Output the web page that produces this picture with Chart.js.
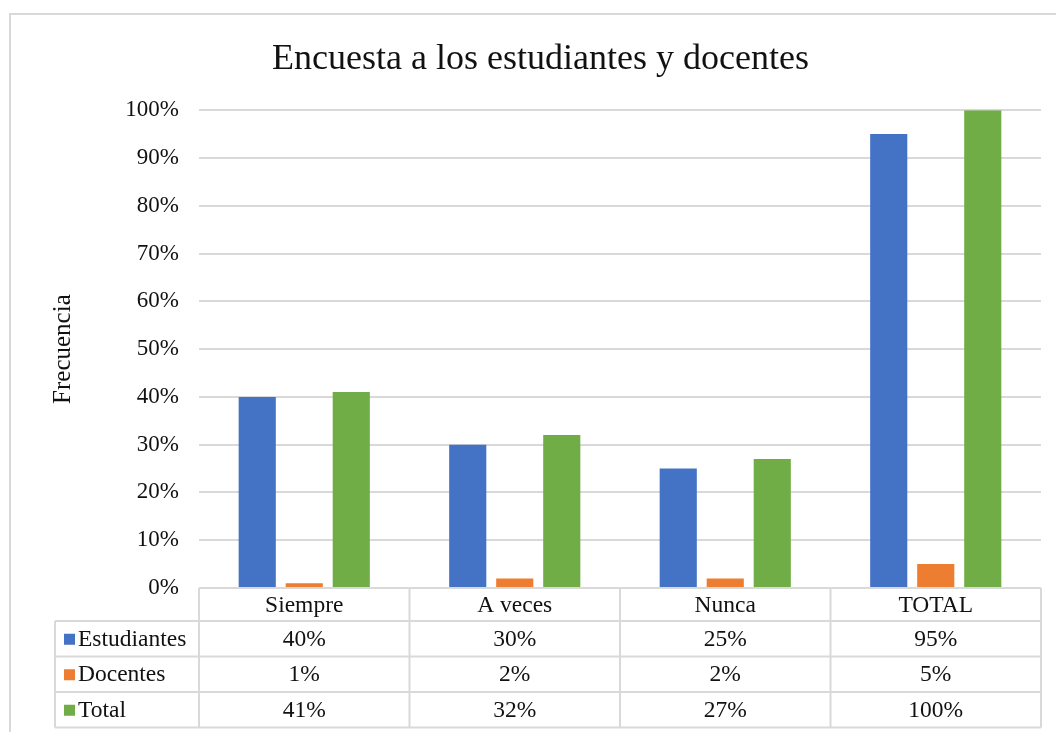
<!DOCTYPE html>
<html>
<head>
<meta charset="utf-8">
<script src="https://cdn.jsdelivr.net/npm/chart.js@4"></script>
<style>
  html, body { margin: 0; padding: 0; background: #fff; }
  #wrap { width: 1056px; height: 732px; position: relative; }
</style>
</head>
<body>
<div id="wrap"><canvas id="surveyChart"></canvas></div>
<script>
const categories = ["Siempre", "A veces", "Nunca", "TOTAL"];
const estudiantes = [40, 30, 25, 95];
const docentes = [1, 2, 2, 5];
const total = [41, 32, 27, 100];
const seriesNames = ["Estudiantes", "Docentes", "Total"];
const seriesColors = ["#4472c4", "#ed7d31", "#70ad47"];
const yTicks = [0, 10, 20, 30, 40, 50, 60, 70, 80, 90, 100];

const SERIF = "'Liberation Serif', 'Times New Roman', serif";
const GRID = "#d9d9d9";
const TEXT = "#111";

// outer frame of the chart object
const framePlugin = {
  id: "frame",
  beforeDraw(chart) {
    const c = chart.ctx;
    c.save();
    c.fillStyle = "#fff";
    c.fillRect(0, 0, chart.width, chart.height);
    c.strokeStyle = GRID;
    c.lineWidth = 2;
    c.strokeRect(10, 14, chart.width + 20, chart.height + 20);
    c.restore();
  },
};

// data table below the plot, aligned with the category scale
const dataTablePlugin = {
  id: "dataTable",
  afterDraw(chart) {
    const c = chart.ctx;
    const area = chart.chartArea;
    const x = chart.scales.x;
    const colW = (area.right - area.left) / categories.length;
    const top = area.bottom;
    const headerH = 33;
    const rowH = 35.5;
    const tableLeft = 55;
    const rows = [estudiantes, docentes, total];
    const bottom = top + headerH + rowH * rows.length;

    c.save();
    c.strokeStyle = GRID;
    c.lineWidth = 2;
    c.beginPath();
    // header row
    c.moveTo(area.left, top);
    c.lineTo(area.right, top);
    for (let i = 0; i <= categories.length; i++) {
      const xx = area.left + colW * i;
      c.moveTo(xx, top);
      c.lineTo(xx, bottom);
    }
    for (let r = 0; r <= rows.length; r++) {
      const yy = top + headerH + rowH * r;
      c.moveTo(tableLeft, yy);
      c.lineTo(area.right, yy);
    }
    c.moveTo(tableLeft, top + headerH);
    c.lineTo(tableLeft, bottom);
    c.stroke();

    c.font = "23.5px " + SERIF;
    c.fillStyle = TEXT;
    c.textBaseline = "middle";
    c.textAlign = "center";
    categories.forEach((cat, i) => {
      c.fillText(cat, x.getPixelForValue(i), top + headerH / 2 + 1);
    });

    rows.forEach((vals, r) => {
      const cy = top + headerH + rowH * r + rowH / 2 + 1;
      c.fillStyle = seriesColors[r];
      c.fillRect(64, cy - 6, 11, 11);
      c.fillStyle = TEXT;
      c.textAlign = "left";
      c.fillText(seriesNames[r], 78, cy);
      c.textAlign = "center";
      vals.forEach((v, i) => {
        c.fillText(v + "%", x.getPixelForValue(i), cy);
      });
    });
    c.restore();
  },
};

const ctx = document.getElementById("surveyChart").getContext("2d");
const surveyChart = new Chart(ctx, {
  type: "bar",
  data: {
    labels: categories,
    datasets: [
      { label: seriesNames[0], data: estudiantes, backgroundColor: seriesColors[0] },
      { label: seriesNames[1], data: docentes, backgroundColor: seriesColors[1] },
      { label: seriesNames[2], data: total, backgroundColor: seriesColors[2] },
    ],
  },
  options: {
    responsive: true,
    maintainAspectRatio: false,
    animation: false,
    devicePixelRatio: 1,
    categoryPercentage: 0.67,
    barPercentage: 0.79,
    layout: { padding: { left: 40, right: 15, top: 0, bottom: 144 } },
    scales: {
      x: {
        ticks: { display: false },
        grid: { display: false, drawTicks: false },
        border: { display: false },
      },
      y: {
        min: 0,
        max: 100,
        afterFit(scale) {
          scale.width = 159;
        },
        afterBuildTicks(scale) {
          scale.ticks = yTicks.map((v) => ({ value: v }));
        },
        ticks: {
          padding: 20,
          color: TEXT,
          font: { family: SERIF, size: 23 },
          callback: (v) => v + "%",
        },
        grid: { color: GRID, lineWidth: 2, drawTicks: false },
        border: { display: false },
        title: {
          display: true,
          text: "Frecuencia",
          color: TEXT,
          font: { family: SERIF, size: 25 },
          padding: { top: 8, bottom: 0 },
        },
      },
    },
    plugins: {
      legend: { display: false },
      tooltip: { enabled: false },
      title: {
        display: true,
        text: "Encuesta a los estudiantes y docentes",
        color: TEXT,
        font: { family: SERIF, size: 36, weight: "normal" },
        padding: { top: 38, bottom: 29 },
      },
    },
  },
  plugins: [framePlugin, dataTablePlugin],
});
</script>
</body>
</html>
